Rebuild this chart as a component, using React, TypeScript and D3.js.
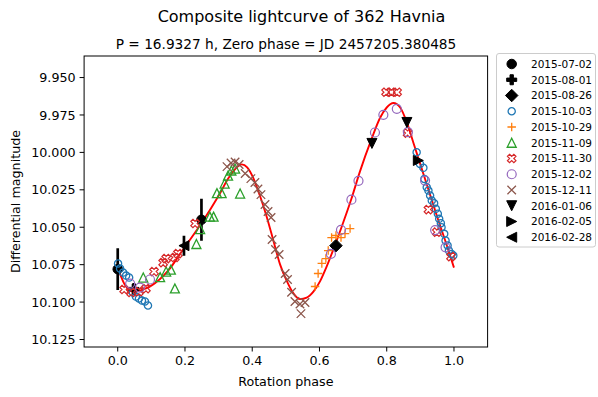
import React from "react";
import * as d3 from "d3";

type Pt = [number, number];
type ErrPt = [number, number, number];

const W = 598;
const H = 397;
const plot = { left: 84.1, right: 487.6, top: 56, bottom: 347 };

const titleText = "Composite lightcurve of 362 Havnia";
const subtitleText = "P = 16.9327 h, Zero phase = JD 2457205.380485";
const xLabel = "Rotation phase";
const yLabel = "Differential magnitude";
const xTicks = [0, 0.2, 0.4, 0.6, 0.8, 1.0];
const yTicks = [9.95, 9.975, 10.0, 10.025, 10.05, 10.075, 10.1, 10.125];

// Fourier fit of the composite lightcurve (phase, magnitude)
const fitCurve: Pt[] = [
  [0.0, 10.077], [0.02, 10.088], [0.045, 10.093], [0.07, 10.092], [0.1, 10.089],
  [0.15, 10.079], [0.197, 10.064], [0.25, 10.047], [0.3, 10.029], [0.33, 10.017],
  [0.35, 10.011], [0.369, 10.008], [0.385, 10.01], [0.403, 10.017], [0.423, 10.029],
  [0.443, 10.043], [0.463, 10.059], [0.483, 10.075], [0.503, 10.086], [0.522, 10.094],
  [0.542, 10.098], [0.562, 10.097], [0.582, 10.093], [0.602, 10.086], [0.62, 10.077],
  [0.646, 10.062], [0.664, 10.051], [0.695, 10.031], [0.72, 10.013], [0.755, 9.991],
  [0.78, 9.977], [0.8, 9.97], [0.82, 9.967], [0.84, 9.97], [0.86, 9.98],
  [0.88, 9.994], [0.9, 10.008], [0.92, 10.022], [0.95, 10.043], [0.98, 10.063], [1.0, 10.077],
];

// Observations by night: [phase, magnitude] or [phase, magnitude, error]
const obs20150702: ErrPt[] = [[0.0, 10.078, 0.014], [0.249, 10.045, 0.014]];
const obs20150801: ErrPt[] = [[0.048, 10.0913, 0.004]];
const obs20150826: Pt[] = [[0.649, 10.0623]];
const obs20151003: Pt[] = [
  [0.001, 10.0742], [0.007, 10.0776], [0.016, 10.0803], [0.025, 10.0823], [0.034, 10.0836],
  [0.045, 10.0936], [0.054, 10.0963], [0.063, 10.0976], [0.072, 10.099], [0.081, 10.0996],
  [0.09, 10.1023],
  [0.889, 9.9999], [0.899, 10.0077], [0.909, 10.0103], [0.912, 10.0177], [0.919, 10.0233],
  [0.924, 10.0255], [0.929, 10.0288], [0.934, 10.0322], [0.941, 10.034], [0.946, 10.0377],
  [0.952, 10.041], [0.956, 10.0444], [0.961, 10.0473], [0.963, 10.05], [0.971, 10.0544],
  [0.975, 10.0589], [0.981, 10.0622], [0.985, 10.0656], [0.993, 10.0678], [0.998, 10.0689],
];
const obs20151029: Pt[] = [
  [0.587, 10.0896], [0.596, 10.0809], [0.607, 10.0742], [0.619, 10.0709], [0.626, 10.0656],
  [0.636, 10.0569], [0.649, 10.0555], [0.664, 10.0569], [0.676, 10.0542], [0.691, 10.0509],
];
const obs20151109: Pt[] = [
  [0.076, 10.0836], [0.126, 10.0833], [0.144, 10.0796], [0.158, 10.0783], [0.17, 10.0909],
  [0.234, 10.0612], [0.245, 10.0512], [0.274, 10.0429], [0.285, 10.0429], [0.295, 10.0272],
  [0.309, 10.0272], [0.318, 10.0208], [0.328, 10.0155], [0.338, 10.0121], [0.349, 10.0108],
  [0.364, 10.0275],
];
const obs20151130: Pt[] = [
  [0.019, 10.0916], [0.04, 10.0936], [0.063, 10.093], [0.084, 10.091], [0.108, 10.0796],
  [0.135, 10.0736], [0.144, 10.0709], [0.17, 10.0702], [0.179, 10.0676], [0.23, 10.0475],
  [0.798, 9.9598], [0.814, 9.9598], [0.831, 9.9598], [0.862, 9.9871], [0.924, 10.0382],
  [0.949, 10.0533], [0.991, 10.0696],
];
const obs20151202: Pt[] = [
  [0.037, 10.0876], [0.066, 10.0903], [0.096, 10.0849],
  [0.634, 10.0678], [0.664, 10.0517], [0.695, 10.0316], [0.716, 10.019], [0.765, 9.9867],
  [0.79, 9.9749], [0.83, 9.9709], [0.863, 9.9865], [0.914, 10.0188], [0.944, 10.0519],
  [0.975, 10.0634],
];
const obs20151211: Pt[] = [
  [0.325, 10.0095], [0.337, 10.0071], [0.349, 10.0064], [0.361, 10.0081], [0.379, 10.0141],
  [0.396, 10.0175], [0.408, 10.0201], [0.417, 10.0245], [0.426, 10.0282], [0.438, 10.0348],
  [0.447, 10.0395], [0.456, 10.0435], [0.459, 10.0582], [0.469, 10.0649], [0.48, 10.0682],
  [0.498, 10.0809], [0.505, 10.0849], [0.517, 10.0934], [0.527, 10.0996], [0.542, 10.1013],
  [0.557, 10.1003], [0.545, 10.1077],
];
const obs20160106: Pt[] = [[0.756, 9.994], [0.86, 9.98]];
const obs20160205: Pt[] = [[0.894, 10.0054]];
const obs20160228: ErrPt[] = [[0.197, 10.0623, 0.0067]];

type Series = {
  label: string;
  data: (Pt | ErrPt)[];
  kind: string;
  size: number;
  fill: string;
  stroke: string;
  sw: number;
};

const series: Series[] = [
  { label: "2015-07-02", data: obs20150702, kind: "o", size: 9.5, fill: "#000", stroke: "#000", sw: 1 },
  { label: "2015-08-01", data: obs20150801, kind: "P", size: 10, fill: "#000", stroke: "#000", sw: 1 },
  { label: "2015-08-26", data: obs20150826, kind: "D", size: 12.5, fill: "#000", stroke: "#000", sw: 1 },
  { label: "2015-10-03", data: obs20151003, kind: "o", size: 7.2, fill: "none", stroke: "#1f77b4", sw: 1.3 },
  { label: "2015-10-29", data: obs20151029, kind: "+", size: 8.5, fill: "none", stroke: "#ff7f0e", sw: 1.3 },
  { label: "2015-11-09", data: obs20151109, kind: "^", size: 9, fill: "none", stroke: "#2ca02c", sw: 1.3 },
  { label: "2015-11-30", data: obs20151130, kind: "X", size: 8.5, fill: "none", stroke: "#d62728", sw: 1.2 },
  { label: "2015-12-02", data: obs20151202, kind: "o", size: 9, fill: "none", stroke: "#9467bd", sw: 1.2 },
  { label: "2015-12-11", data: obs20151211, kind: "x", size: 8.5, fill: "none", stroke: "#8c564b", sw: 1.3 },
  { label: "2016-01-06", data: obs20160106, kind: "v", size: 10, fill: "#000", stroke: "#000", sw: 1 },
  { label: "2016-02-05", data: obs20160205, kind: ">", size: 10, fill: "#000", stroke: "#000", sw: 1 },
  { label: "2016-02-28", data: obs20160228, kind: "<", size: 10, fill: "#000", stroke: "#000", sw: 1 },
];

const plusVerts: Pt[] = [
  [-1, -3], [1, -3], [1, -1], [3, -1], [3, 1], [1, 1], [1, 3], [-1, 3], [-1, 1], [-3, 1], [-3, -1], [-1, -1],
];
const xVerts: Pt[] = [
  [-1, -2], [0, -1], [1, -2], [2, -1], [1, 0], [2, 1], [1, 2], [0, 1], [-1, 2], [-2, 1], [-1, 0], [-2, -1],
];

function polygon(verts: Pt[], k: number): string {
  return "M" + verts.map(([a, b]) => `${(a * k).toFixed(2)},${(b * k).toFixed(2)}`).join("L") + "Z";
}

function markerPath(kind: string, s: number): string {
  const h = s / 2;
  switch (kind) {
    case "o":
      return `M${h},0A${h},${h},0,1,1,${-h},0A${h},${h},0,1,1,${h},0Z`;
    case "P":
      return polygon(plusVerts, s / 6);
    case "X":
      return polygon(xVerts, s / 4);
    case "D":
      return `M0,${-h}L${h},0L0,${h}L${-h},0Z`;
    case "v":
      return `M${-h},${-h}L${h},${-h}L0,${h}Z`;
    case "^":
      return `M0,${-h}L${h},${h}L${-h},${h}Z`;
    case ">":
      return `M${-h},${-h}L${h},0L${-h},${h}Z`;
    case "<":
      return `M${h},${-h}L${-h},0L${h},${h}Z`;
    case "+":
      return `M${-h},0H${h}M0,${-h}V${h}`;
    case "x":
      return `M${-h},${-h}L${h},${h}M${-h},${h}L${h},${-h}`;
    default:
      return "";
  }
}

const font = "'DejaVu Sans', sans-serif";

export default function App() {
  const x = d3.scaleLinear().domain([-0.1, 1.1]).range([plot.left, plot.right]);
  const y = d3.scaleLinear().domain([9.9356, 10.13]).range([plot.top, plot.bottom]);

  const fitLine = d3
    .line<Pt>()
    .x((d) => x(d[0]))
    .y((d) => y(d[1]))
    .curve(d3.curveMonotoneX)(fitCurve) as string;

  const fmtX = d3.format(".1f");
  const fmtY = d3.format(".3f");

  const legend = { x: 496.5, y: 53.5, w: 99, h: 193.5, row0: 64, step: 15.75 };

  return (
    <div style={{ position: "absolute", left: 0, top: 0 }}>
      <svg width={W} height={H} style={{ display: "block", background: "#fff" }} fontFamily={font}>
        <rect x={0} y={0} width={W} height={H} fill="#fff" />
        <text x={301.5} y={21.5} fontSize={16} textAnchor="middle" fill="#000">
          {titleText}
        </text>
        <text x={286} y={49} fontSize={13.7} textAnchor="middle" fill="#000">
          {subtitleText}
        </text>

        <defs>
          <clipPath id="plotClip">
            <rect x={plot.left} y={plot.top} width={plot.right - plot.left} height={plot.bottom - plot.top} />
          </clipPath>
        </defs>

        <g clipPath="url(#plotClip)">
          <path d={fitLine} fill="none" stroke="#ff0000" strokeWidth={1.9} />
          {series.map((s) => (
            <g key={s.label}>
              {s.data.map((d, i) =>
                d.length === 3 ? (
                  <line
                    key={"e" + i}
                    x1={x(d[0])}
                    x2={x(d[0])}
                    y1={y(d[1] - (d as ErrPt)[2])}
                    y2={y(d[1] + (d as ErrPt)[2])}
                    stroke="#000"
                    strokeWidth={2.7}
                  />
                ) : null
              )}
              {s.data.map((d, i) => (
                <path
                  key={"m" + i}
                  transform={`translate(${x(d[0])},${y(d[1])})`}
                  d={markerPath(s.kind, s.size)}
                  fill={s.fill}
                  stroke={s.stroke}
                  strokeWidth={s.sw}
                  strokeLinejoin="miter"
                />
              ))}
            </g>
          ))}
        </g>

        {/* frame */}
        <rect
          x={plot.left}
          y={plot.top}
          width={plot.right - plot.left}
          height={plot.bottom - plot.top}
          fill="none"
          stroke="#000"
          strokeWidth={1}
        />

        {/* x axis */}
        {xTicks.map((t) => (
          <g key={"x" + t} transform={`translate(${x(t)},${plot.bottom})`}>
            <line y1={0} y2={4.5} stroke="#000" strokeWidth={1} />
            <text y={18} fontSize={12.7} textAnchor="middle" fill="#000">
              {fmtX(t)}
            </text>
          </g>
        ))}
        <text x={(plot.left + plot.right) / 2} y={386} fontSize={12.7} textAnchor="middle" fill="#000">
          {xLabel}
        </text>

        {/* y axis */}
        {yTicks.map((t) => (
          <g key={"y" + t} transform={`translate(${plot.left},${y(t)})`}>
            <line x1={0} x2={-4.5} stroke="#000" strokeWidth={1} />
            <text x={-8.5} dy="0.36em" fontSize={12.7} textAnchor="end" fill="#000">
              {fmtY(t)}
            </text>
          </g>
        ))}
        <text
          transform={`translate(19.5,${(plot.top + plot.bottom) / 2}) rotate(-90)`}
          fontSize={12.7}
          textAnchor="middle"
          fill="#000"
        >
          {yLabel}
        </text>

        {/* legend */}
        <rect
          x={legend.x}
          y={legend.y}
          width={legend.w}
          height={legend.h}
          rx={2.5}
          fill="#fff"
          fillOpacity={0.8}
          stroke="#cccccc"
          strokeWidth={1}
        />
        {series.map((s, i) => {
          const ly = legend.row0 + i * legend.step;
          return (
            <g key={"l" + s.label}>
              <path
                transform={`translate(511.7,${ly})`}
                d={markerPath(s.kind, s.size)}
                fill={s.fill}
                stroke={s.stroke}
                strokeWidth={s.sw}
              />
              <text x={531} y={ly} dy="0.36em" fontSize={10.5} fill="#000">
                {s.label}
              </text>
            </g>
          );
        })}
      </svg>
    </div>
  );
}
